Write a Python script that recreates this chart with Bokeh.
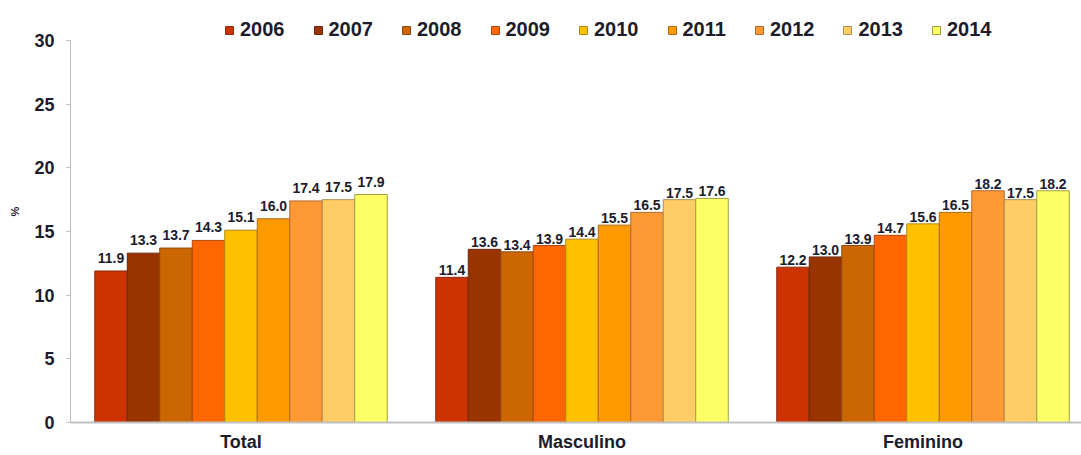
from bokeh.plotting import figure
from bokeh.models import ColumnDataSource, Legend, LegendItem, FixedTicker
from bokeh.embed import file_html
from bokeh.resources import INLINE
from bokeh.core.properties import value

categories = ["Total", "Masculino", "Feminino"]
years = ["2006", "2007", "2008", "2009", "2010", "2011", "2012", "2013", "2014"]
total = [11.9, 13.3, 13.7, 14.3, 15.1, 16.0, 17.4, 17.5, 17.9]
masculino = [11.4, 13.6, 13.4, 13.9, 14.4, 15.5, 16.5, 17.5, 17.6]
feminino = [12.2, 13.0, 13.9, 14.7, 15.6, 16.5, 18.2, 17.5, 18.2]
y_ticks = [0, 5, 10, 15, 20, 25, 30]

colors = ["#CC3300", "#993300", "#CC6600", "#FF6600", "#FFC000",
          "#FF9900", "#FF9933", "#FFCC66", "#FFFF66"]
outlines = ["#8a2a10", "#6a2a0a", "#8a4a10", "#b04a10", "#b08a10",
            "#b06a10", "#b06a30", "#b09050", "#a0a040"]
# label lift (px) per category group, as placed in the original
label_lift = [-8, -2, -2]

FONT = "Liberation Sans"
TXT = "#1c1c2c"

W, H = 1081, 455
LEFT, BOTTOM = 70, 33
frame_w = W - LEFT
frame_h = H - BOTTOM
cat_px = 341.0
bar_w = 32.5 / cat_px
y_top = 30 * frame_h / 382.0

p = figure(width=W, height=H, output_backend="svg", toolbar_location=None,
           x_range=(0, frame_w / cat_px), y_range=(0, y_top),
           min_border_left=LEFT, min_border_right=0, min_border_top=0,
           min_border_bottom=BOTTOM)
p.outline_line_color = None
p.xgrid.visible = False
p.ygrid.visible = False
p.background_fill_color = "white"

series = [total, masculino, feminino]
items = []
for j, yr in enumerate(years):
    xs = [i + 0.5 + (j - 4) * bar_w for i in range(len(categories))]
    tops = [s[j] for s in series]
    src = ColumnDataSource(dict(x=xs, top=tops, lab=[f"{t:.1f}" for t in tops],
                                off=label_lift))
    r = p.vbar(x="x", top="top", width=bar_w, bottom=0, source=src,
               fill_color=colors[j], line_color=outlines[j], line_width=1)
    p.text(x="x", y="top", text="lab", source=src, text_align="center",
           text_baseline="bottom", y_offset="off", text_font=value(FONT),
           text_font_style="bold", text_font_size="14px", text_color=TXT)
    items.append(LegendItem(label=yr, renderers=[r]))

legend = Legend(items=items, orientation="horizontal", location=(154, 381),
                glyph_width=10, glyph_height=10, label_standoff=6, spacing=28,
                padding=4, margin=0, border_line_color=None,
                background_fill_alpha=0,
                label_text_font=FONT, label_text_font_style="bold",
                label_text_font_size="20px", label_text_color=TXT)
p.add_layout(legend, "center")

# y axis
p.yaxis.bounds = (0, 30)
p.yaxis.ticker = FixedTicker(ticks=y_ticks)
p.yaxis.minor_tick_line_color = None
p.yaxis.major_tick_out = 4
p.yaxis.major_tick_in = 0
p.yaxis.major_tick_line_color = "#bfbfbf"
p.yaxis.axis_line_color = "#bfbfbf"
p.yaxis.major_label_standoff = 12
p.yaxis.major_label_text_font = FONT
p.yaxis.major_label_text_font_style = "bold"
p.yaxis.major_label_text_font_size = "18px"
p.yaxis.major_label_text_color = TXT
p.yaxis.axis_label = "%"
p.yaxis.axis_label_standoff = 10
p.yaxis.axis_label_text_font = FONT
p.yaxis.axis_label_text_font_style = "bold"
p.yaxis.axis_label_text_font_size = "11px"
p.yaxis.axis_label_text_color = TXT

# x axis
p.xaxis.ticker = FixedTicker(ticks=[i + 0.5 for i in range(len(categories))])
p.xaxis.major_label_overrides = {i + 0.5: c for i, c in enumerate(categories)}
p.xaxis.minor_tick_line_color = None
p.xaxis.major_tick_line_color = None
p.xaxis.major_tick_out = 0
p.xaxis.major_tick_in = 0
p.xaxis.axis_line_color = "#bfbfbf"
p.xaxis.axis_line_width = 2
p.xaxis.major_label_standoff = 9
p.xaxis.major_label_text_font = FONT
p.xaxis.major_label_text_font_style = "bold"
p.xaxis.major_label_text_font_size = "18px"
p.xaxis.major_label_text_color = TXT

open("out.html", "w").write(file_html(p, INLINE))
